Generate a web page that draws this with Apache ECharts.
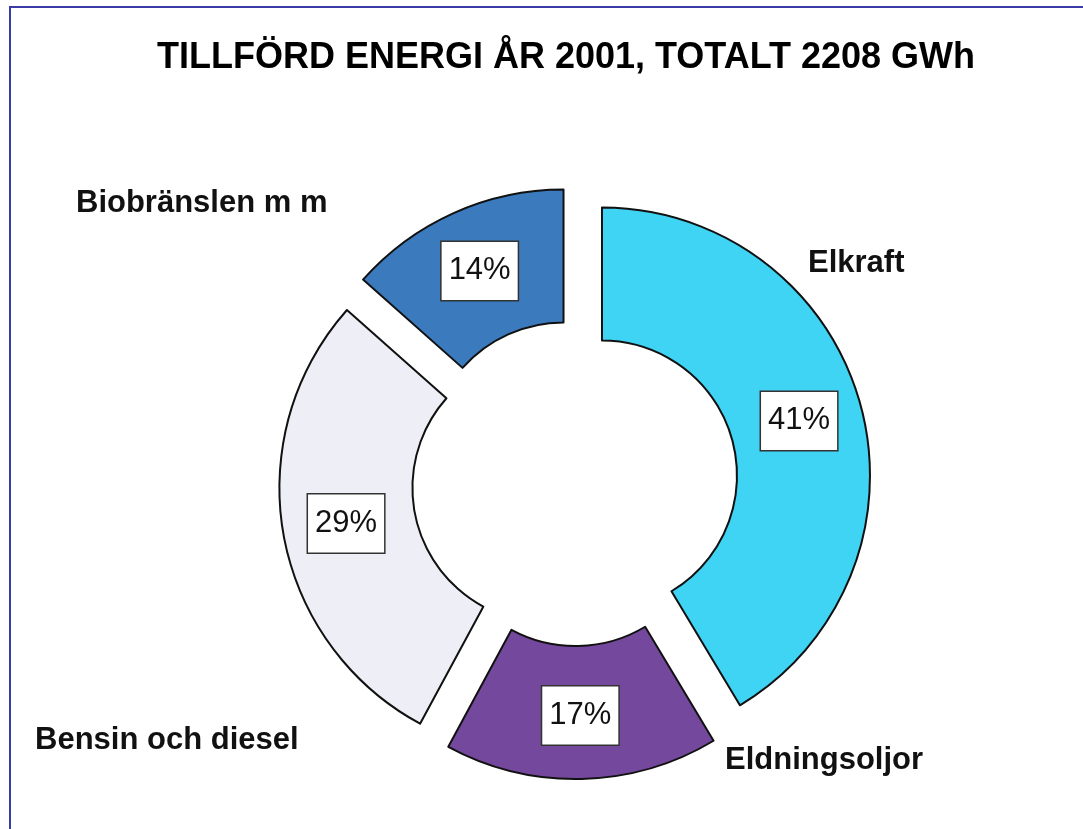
<!DOCTYPE html>
<html>
<head>
<meta charset="utf-8">
<script src="https://cdn.jsdelivr.net/npm/echarts@6/dist/echarts.min.js"></script>
<style>
html,body{margin:0;padding:0;background:#fff;}
#chart{width:1083px;height:829px;}
</style>
</head>
<body>
<div id="chart"></div>
<script>
const titleText = 'TILLFÖRD ENERGI ÅR 2001, TOTALT 2208 GWh';
const categories = ['Elkraft', 'Eldningsoljor', 'Bensin och diesel', 'Biobränslen m m'];
// estimated energy per source (GWh); total 2208
const gwh = [914, 364, 633, 297];
// percentage labels as printed in the chart
const pctLabels = ['41%', '17%', '29%', '14%'];
const colors = ['#3fd3f4', '#74489c', '#eeeef6', '#3b7bbd'];

// placement of the category-name labels (left x, middle y)
const namePos = [[808, 263], [725, 760], [35, 740], [76, 203]];

const font = '"Liberation Sans", Arial, sans-serif';
const center = [575, 483];
const radius = [135, 268];

const chart = echarts.init(document.getElementById('chart'), null, {renderer: 'canvas'});
chart.setOption({
  backgroundColor: '#ffffff',
  animation: false,
  title: {
    text: titleText,
    left: 561, top: 35, textAlign: 'center',
    textStyle: {fontFamily: font, fontWeight: 'bold', fontSize: 36, color: '#000'}
  },
  graphic: [{
    type: 'rect', shape: {x: 10, y: 7, width: 1200, height: 1000},
    style: {fill: 'none', stroke: '#3a3aa8', lineWidth: 2}, silent: true
  }],
  series: [
    {
      type: 'pie',
      center: center, radius: radius,
      startAngle: 90, clockwise: true,
      selectedMode: 'multiple', selectedOffset: 28,
      avoidLabelOverlap: false,
      emphasis: {disabled: true},
      itemStyle: {borderColor: '#111', borderWidth: 2},
      label: {
        show: true, position: 'inside',
        formatter: p => pctLabels[p.dataIndex],
        fontFamily: font, fontSize: 31, color: '#111',
        backgroundColor: '#fff', borderColor: '#333', borderWidth: 1.5,
        padding: [15, 7, 12, 7]
      },
      labelLine: {show: false},
      data: categories.map((c, i) => ({
        name: c, value: gwh[i], selected: true,
        itemStyle: {color: colors[i]}
      }))
    },
    {
      type: 'pie',
      center: center, radius: radius,
      startAngle: 90, clockwise: true,
      silent: true,
      avoidLabelOverlap: false,
      itemStyle: {color: 'rgba(0,0,0,0)', borderWidth: 0},
      label: {
        show: true, position: 'outside',
        formatter: p => p.name,
        fontFamily: font, fontSize: 31, fontWeight: 'bold', color: '#111'
      },
      labelLine: {show: false},
      labelLayout: p => ({
        x: namePos[p.dataIndex][0], y: namePos[p.dataIndex][1],
        align: 'left', verticalAlign: 'middle'
      }),
      data: categories.map((c, i) => ({name: c, value: gwh[i]}))
    }
  ]
});
</script>
</body>
</html>
